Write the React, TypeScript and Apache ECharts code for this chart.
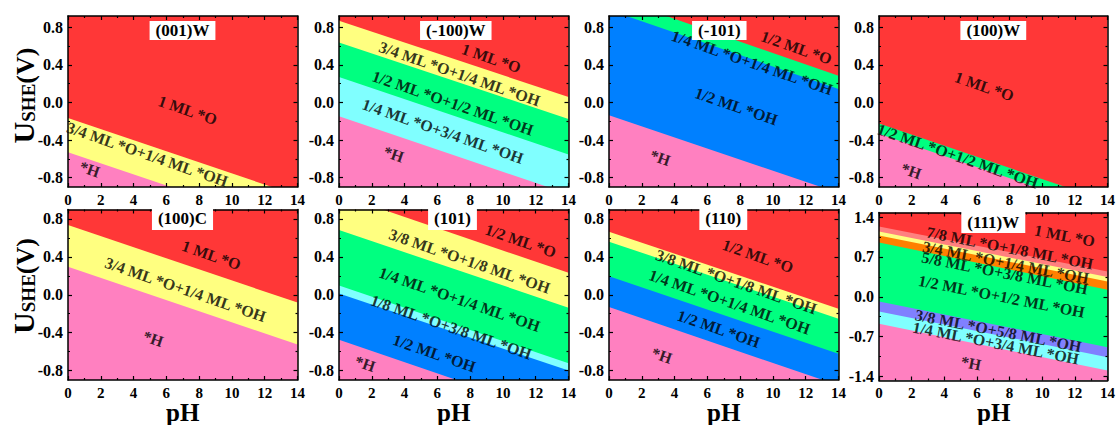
import React, { useEffect, useRef } from "react";
import * as echarts from "echarts";

const FONT = '"Times New Roman", "Liberation Serif", serif';

const RED = "#FF3737";
const YELLOW = "#FFFF80";
const GREEN = "#00FF80";
const CYAN = "#80FFFF";
const PINK = "#FF80C0";
const BLUE = "#0080FF";
const SALMON = "#FF8080";
const ORANGE = "#FF8000";
const PURPLE = "#8080FF";

const PH_TICKS_MIN = 0;
const PH_TICKS_MAX = 14;

const panelTitles = ["(001)W", "(-100)W", "(-101)", "(100)W", "(100)C", "(101)", "(110)", "(111)W"];

const yTicksStd = [-0.8, -0.4, 0, 0.4, 0.8];
const yMinorStd = [-0.6, -0.2, 0.2, 0.6];
const yTicks111 = [-1.4, -0.7, 0, 0.7, 1.4];
const yMinor111 = [-1.05, -0.35, 0.35, 1.05];

// Regions (top to bottom), their colours, boundaries [U at pH 0, U at pH 14] and label anchors [pH, U]
const p1Regions = ["1 ML *O", "3/4 ML *O+1/4 ML *OH", "*H"];
const p1Colors = [RED, YELLOW, PINK];
const p1Bounds = [[-0.165, -0.992], [-0.529, -1.356]];
const p1Labels = [[7.3, -0.083], [4.84, -0.553], [1.32, -0.712]];

const p2Regions = ["1 ML *O", "3/4 ML *O+1/4 ML *OH", "1/2 ML *O+1/2 ML *OH", "1/4 ML *O+3/4 ML *OH", "*H"];
const p2Colors = [RED, YELLOW, GREEN, CYAN, PINK];
const p2Bounds = [[0.87, 0.058], [0.637, -0.175], [0.27, -0.553], [-0.147, -0.974]];
const p2Labels = [[9.29, 0.471], [7.35, 0.305], [6.94, -0.006], [6.33, -0.306], [3.33, -0.553]];

const p3Regions = ["1/2 ML *O", "1/4 ML *O+1/4 ML *OH", "1/2 ML *OH", "*H"];
const p3Colors = [RED, GREEN, BLUE, PINK];
const p3Bounds = [[1.132, 0.284], [0.984, 0.143], [-0.136, -0.963]];
const p3Labels = [[11.43, 0.584], [8.73, 0.425], [7.76, -0.041], [3.12, -0.589]];

const p4Regions = ["1 ML *O", "1/2 ML *O+1/2 ML *OH", "*H"];
const p4Colors = [RED, GREEN, PINK];
const p4Bounds = [[-0.225, -1.052], [-0.334, -1.161]];
const p4Labels = [[6.45, 0.171], [4.82, -0.571], [1.97, -0.73]];

const p5Regions = ["1 ML *O", "3/4 ML *O+1/4 ML *OH", "*H"];
const p5Colors = [RED, YELLOW, PINK];
const p5Bounds = [[0.736, -0.083], [0.295, -0.525]];
const p5Labels = [[8.75, 0.418], [7.16, 0.054], [5.19, -0.465]];

const p6Regions = ["1/2 ML *O", "3/8 ML *O+1/8 ML *OH", "1/4 ML *O+1/4 ML *OH", "1/8 ML *O+3/8 ML *OH", "1/2 ML *OH", "*H"];
const p6Colors = [RED, YELLOW, GREEN, CYAN, BLUE, PINK];
const p6Bounds = [[1.058, 0.231], [0.683, -0.136], [0.097, -0.723], [0.012, -0.8], [-0.476, -1.303]];
const p6Labels = [[11.08, 0.57], [7.96, 0.355], [7.35, -0.048], [6.84, -0.341], [5.82, -0.617], [1.59, -0.73]];

const p7Regions = ["1/2 ML *O", "3/8 ML *O+1/8 ML *OH", "1/4 ML *O+1/4 ML *OH", "1/2 ML *OH", "*H"];
const p7Colors = [RED, YELLOW, GREEN, BLUE, PINK];
const p7Bounds = [[0.666, -0.147], [0.56, -0.253], [0.196, -0.624], [-0.129, -0.956]];
const p7Labels = [[9.08, 0.408], [7.76, 0.136], [7.35, -0.076], [6.69, -0.359], [3.22, -0.642]];

const p8Regions = ["1 ML *O", "7/8 ML *O+1/8 ML *OH", "3/4 ML *O+1/4 ML *OH", "5/8 ML *O+3/8 ML *OH", "1/2 ML *O+1/2 ML *OH", "3/8 ML *O+5/8 ML *OH", "1/4 ML *O+3/4 ML *OH", "*H"];
const p8Colors = [RED, SALMON, YELLOW, ORANGE, GREEN, PURPLE, CYAN, PINK];
const p8Bounds = [[1.236, 0.445], [1.148, 0.346], [1.078, 0.27], [0.955, 0.123], [-0.082, -0.885], [-0.258, -1.06], [-0.475, -1.295]];
const p8Labels = [[11.38, 1.072], [8.02, 0.855], [7.77, 0.603], [7.71, 0.416], [7.51, 0.006], [7.31, -0.598], [7.16, -0.814], [5.64, -1.166]];

const panels = [
  { regions: p1Regions, colors: p1Colors, bounds: p1Bounds, labels: p1Labels },
  { regions: p2Regions, colors: p2Colors, bounds: p2Bounds, labels: p2Labels },
  { regions: p3Regions, colors: p3Colors, bounds: p3Bounds, labels: p3Labels },
  { regions: p4Regions, colors: p4Colors, bounds: p4Bounds, labels: p4Labels },
  { regions: p5Regions, colors: p5Colors, bounds: p5Bounds, labels: p5Labels },
  { regions: p6Regions, colors: p6Colors, bounds: p6Bounds, labels: p6Labels },
  { regions: p7Regions, colors: p7Colors, bounds: p7Bounds, labels: p7Labels },
  { regions: p8Regions, colors: p8Colors, bounds: p8Bounds, labels: p8Labels },
];

// layout
const GRID_LEFTS = [68, 339, 609, 879];
const GRID_W = 229.5;
const TITLE_CX = [182.5, 455.8, 719.3, 993.3, 182.5, 452.5, 723.3, 993.3];

function layoutOf(g: number) {
  const row = g < 4 ? 0 : 1;
  const col = g % 4;
  if (g === 7) return { left: GRID_LEFTS[col], top: 212.5, height: 168, yMin: -1.47, yMax: 1.48, ticks: yTicks111, minors: yMinor111, rot: -11, titleTop: 212, titlePad: [2, 6] };
  if (row === 0) return { left: GRID_LEFTS[col], top: 16, height: 171, yMin: -0.9, yMax: 0.92, ticks: yTicksStd, minors: yMinorStd, rot: -19, titleTop: 21, titlePad: [1, 6] };
  return { left: GRID_LEFTS[col], top: 209.5, height: 170.5, yMin: -0.9, yMax: 0.9, ticks: yTicksStd, minors: yMinorStd, rot: -19, titleTop: 207, titlePad: [3, 6] };
}

const AXIS_LINE = { color: "#000", width: 1.5 };
const TICK_LINE = { color: "#000", width: 1.2 };
const LABEL_FONT = { color: "#000", fontFamily: FONT, fontWeight: "bold" as const, fontSize: 16 };

function buildOption() {
  const grid: any[] = [];
  const xAxis: any[] = [];
  const yAxis: any[] = [];
  const series: any[] = [];
  const graphic: any[] = [];

  panels.forEach((p, g) => {
    const L = layoutOf(g);
    grid.push({ left: L.left, top: L.top, width: GRID_W, height: L.height, containLabel: false });

    const xBase = {
      gridIndex: g, type: "value", min: PH_TICKS_MIN, max: PH_TICKS_MAX, interval: 2, z: 5,
      axisLine: { show: true, onZero: false, lineStyle: AXIS_LINE },
      axisTick: { show: true, inside: true, length: 4, lineStyle: TICK_LINE },
      minorTick: { show: true, splitNumber: 2, length: 2, lineStyle: TICK_LINE },
      splitLine: { show: false }, minorSplitLine: { show: false },
    };
    xAxis.push({ ...xBase, position: "bottom", axisLabel: { show: true, margin: 5, ...LABEL_FONT, fontSize: 15 } });
    xAxis.push({ ...xBase, position: "top", axisLabel: { show: false } });

    const yBase = { gridIndex: g, type: "value", min: L.yMin, max: L.yMax, z: 5, splitLine: { show: false } };
    yAxis.push({
      ...yBase, position: "left",
      axisLine: { show: true, onZero: false, lineStyle: AXIS_LINE },
      axisTick: { show: true, inside: true, length: 4, customValues: L.ticks, lineStyle: TICK_LINE },
      axisLabel: { show: true, customValues: L.ticks, margin: 5, formatter: (v: number) => Number(v).toFixed(1), ...LABEL_FONT },
    });
    yAxis.push({
      ...yBase, position: "right",
      axisLine: { show: true, onZero: false, lineStyle: AXIS_LINE },
      axisTick: { show: true, inside: true, length: 4, customValues: L.ticks, lineStyle: TICK_LINE },
      axisLabel: { show: false },
    });
    yAxis.push({
      ...yBase, position: "left",
      axisLine: { show: false, onZero: false },
      axisTick: { show: true, inside: true, length: 2, customValues: L.minors, lineStyle: TICK_LINE },
      axisLabel: { show: false },
    });
    yAxis.push({
      ...yBase, position: "right",
      axisLine: { show: false, onZero: false },
      axisTick: { show: true, inside: true, length: 2, customValues: L.minors, lineStyle: TICK_LINE },
      axisLabel: { show: false },
    });

    const xi = 2 * g;
    const yi = 4 * g;
    const areaBase = {
      type: "line", xAxisIndex: xi, yAxisIndex: yi, symbol: "none", silent: true, clip: true,
      lineStyle: { width: 0, opacity: 0 }, z: 1,
    };
    series.push({
      ...areaBase,
      data: [[PH_TICKS_MIN, L.yMax], [PH_TICKS_MAX, L.yMax]],
      areaStyle: { color: p.colors[0], opacity: 1, origin: "start" },
    });
    p.bounds.forEach((b, i) => {
      series.push({
        ...areaBase,
        data: [[PH_TICKS_MIN, b[0]], [PH_TICKS_MAX, b[1]]],
        areaStyle: { color: p.colors[i + 1], opacity: 1, origin: "start" },
      });
    });
    series.push({
      type: "scatter", xAxisIndex: xi, yAxisIndex: yi, silent: true, z: 3,
      symbolSize: 1, itemStyle: { color: "rgba(0,0,0,0)" },
      data: p.labels.map((pos, i) => ({ name: p.regions[i], value: pos })),
      label: {
        show: true, position: "inside", formatter: "{b}", rotate: L.rot,
        color: "#000", fontFamily: FONT, fontWeight: "bold", fontSize: 16,
      },
    });

    graphic.push({
      type: "text", x: TITLE_CX[g], y: L.titleTop, z: 100,
      style: {
        text: panelTitles[g], align: "center", verticalAlign: "top",
        fontFamily: FONT, fontWeight: "bold", fontSize: 17, lineHeight: 17, fill: "#000",
        backgroundColor: "#fff", padding: L.titlePad,
      },
    });
  });

  // y-axis titles
  [95.5, 286].forEach((cy) => {
    graphic.push({
      type: "text", x: 23, y: cy, rotation: Math.PI / 2, z: 100,
      style: {
        text: "{u|U}{s|SHE}{v|(V)}", align: "center", verticalAlign: "middle",
        rich: {
          u: { fontFamily: FONT, fontWeight: "bold", fontSize: 30, verticalAlign: "bottom", fill: "#000" },
          s: { fontFamily: FONT, fontWeight: "bold", fontSize: 19, verticalAlign: "bottom", fill: "#000" },
          v: { fontFamily: FONT, fontWeight: "bold", fontSize: 26, verticalAlign: "bottom", fill: "#000" },
        },
      },
    });
  });
  // pH titles
  GRID_LEFTS.forEach((l) => {
    graphic.push({
      type: "text", x: l + GRID_W / 2, y: 412.3, z: 100,
      style: {
        text: "pH", align: "center", verticalAlign: "middle",
        fontFamily: FONT, fontWeight: "bold", fontSize: 25, fill: "#000",
      },
    });
  });

  return {
    animation: false,
    backgroundColor: "#fff",
    grid, xAxis, yAxis, series, graphic,
  };
}

export default function App() {
  const ref = useRef<HTMLDivElement>(null);
  useEffect(() => {
    if (!ref.current) return;
    const chart = echarts.init(ref.current, null, { renderer: "svg" });
    chart.setOption(buildOption() as any);
    return () => chart.dispose();
  }, []);
  return <div ref={ref} style={{ position: "fixed", left: 0, top: 0, width: 1118, height: 425 }} />;
}
